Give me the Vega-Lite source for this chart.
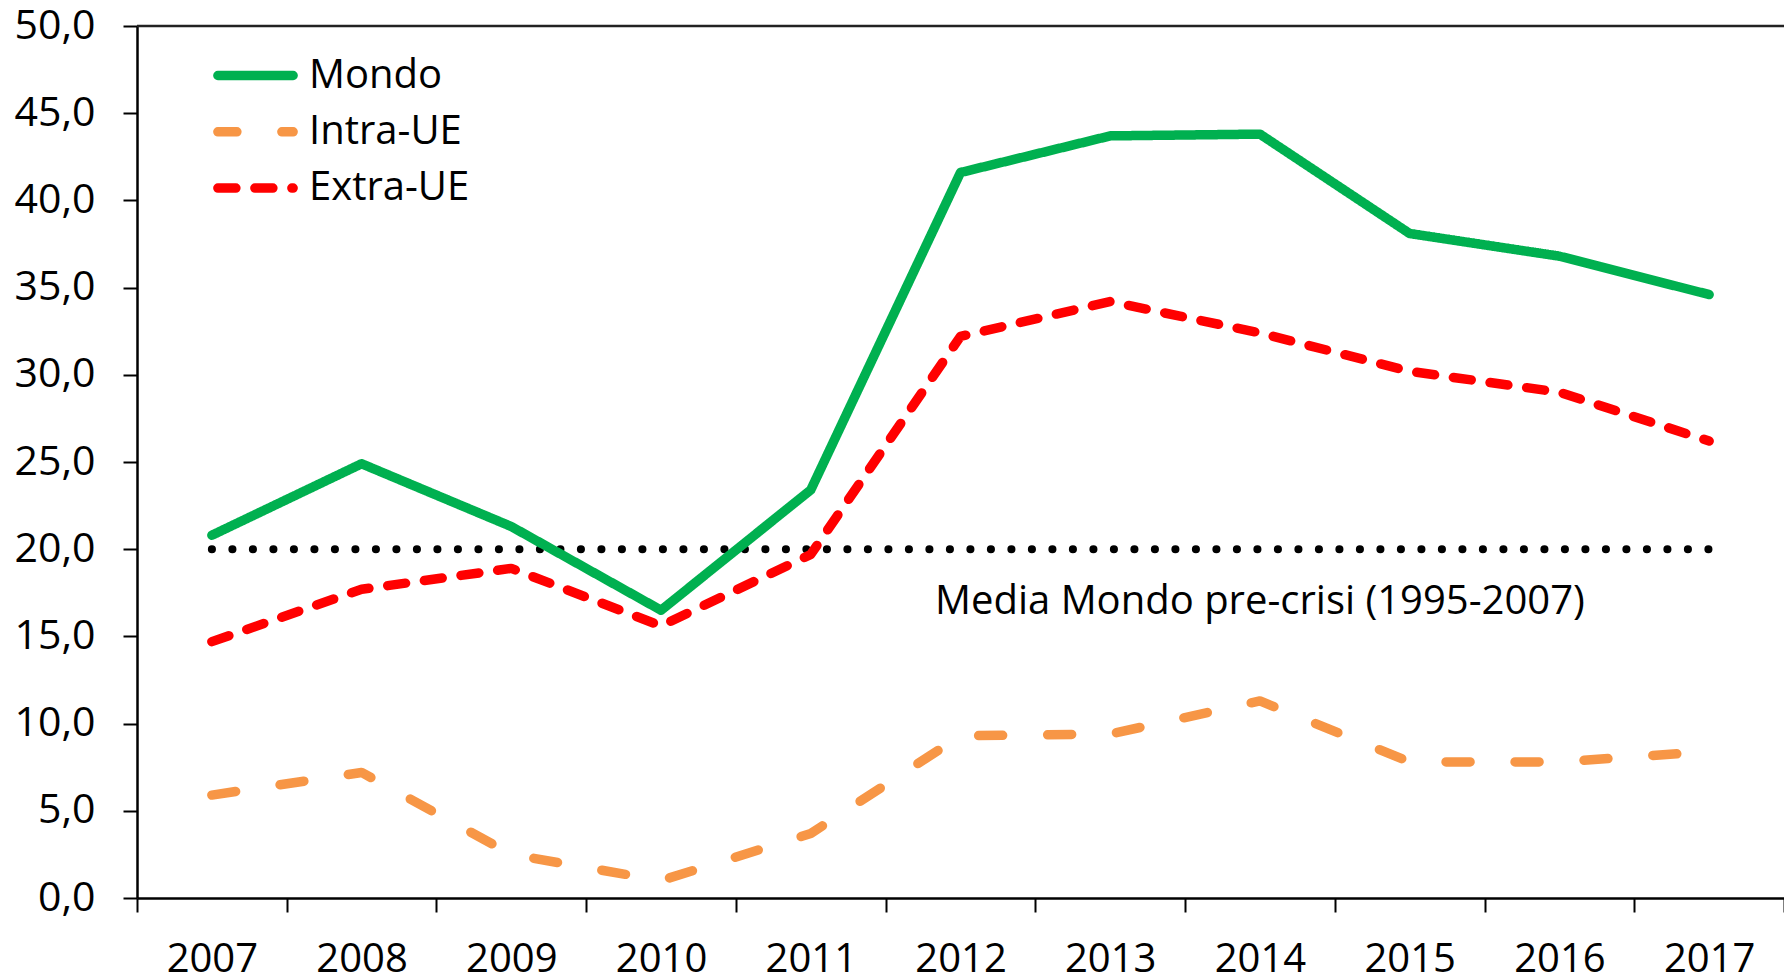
{
  "$schema": "https://vega.github.io/schema/vega-lite/v6.json",
  "width": 1647,
  "height": 872,
  "autosize": {"type": "none"},
  "padding": {"left": 137, "top": 26, "right": 0, "bottom": 80},
  "background": "white",
  "config": {
    "view": {"stroke": null},
    "font": "Open Sans",
    "axis": {"labelFont": "Open Sans", "labelColor": "#000", "domainColor": "#000", "tickColor": "#000"}
  },
  "datasets": {
    "series": [
      {"anno": "2007", "serie": "Mondo", "valore": 20.8},
      {"anno": "2008", "serie": "Mondo", "valore": 24.9},
      {"anno": "2009", "serie": "Mondo", "valore": 21.3},
      {"anno": "2010", "serie": "Mondo", "valore": 16.5},
      {"anno": "2011", "serie": "Mondo", "valore": 23.4},
      {"anno": "2012", "serie": "Mondo", "valore": 41.6},
      {"anno": "2013", "serie": "Mondo", "valore": 43.7},
      {"anno": "2014", "serie": "Mondo", "valore": 43.8},
      {"anno": "2015", "serie": "Mondo", "valore": 38.1},
      {"anno": "2016", "serie": "Mondo", "valore": 36.8},
      {"anno": "2017", "serie": "Mondo", "valore": 34.6},
      {"anno": "2007", "serie": "Intra-UE", "valore": 5.9},
      {"anno": "2008", "serie": "Intra-UE", "valore": 7.2},
      {"anno": "2009", "serie": "Intra-UE", "valore": 2.5},
      {"anno": "2010", "serie": "Intra-UE", "valore": 1.0},
      {"anno": "2011", "serie": "Intra-UE", "valore": 3.7},
      {"anno": "2012", "serie": "Intra-UE", "valore": 9.3},
      {"anno": "2013", "serie": "Intra-UE", "valore": 9.4},
      {"anno": "2014", "serie": "Intra-UE", "valore": 11.3},
      {"anno": "2015", "serie": "Intra-UE", "valore": 7.8},
      {"anno": "2016", "serie": "Intra-UE", "valore": 7.8},
      {"anno": "2017", "serie": "Intra-UE", "valore": 8.4},
      {"anno": "2007", "serie": "Extra-UE", "valore": 14.7},
      {"anno": "2008", "serie": "Extra-UE", "valore": 17.7},
      {"anno": "2009", "serie": "Extra-UE", "valore": 18.9},
      {"anno": "2010", "serie": "Extra-UE", "valore": 15.6},
      {"anno": "2011", "serie": "Extra-UE", "valore": 19.7},
      {"anno": "2012", "serie": "Extra-UE", "valore": 32.2},
      {"anno": "2013", "serie": "Extra-UE", "valore": 34.2},
      {"anno": "2014", "serie": "Extra-UE", "valore": 32.4},
      {"anno": "2015", "serie": "Extra-UE", "valore": 30.2},
      {"anno": "2016", "serie": "Extra-UE", "valore": 29.0},
      {"anno": "2017", "serie": "Extra-UE", "valore": 26.2}
    ],
    "media": [
      {"anno": "2007", "valore": 20.0},
      {"anno": "2017", "valore": 20.0}
    ],
    "etichetta": [
      {"anno": "2014", "valore": 17.0, "testo": "Media Mondo pre-crisi (1995-2007)"}
    ]
  },
  "layer": [
    {
      "data": {"values": [{"v": 50}]},
      "mark": {"type": "rule", "color": "#222", "strokeWidth": 2.5},
      "encoding": {"y": {"field": "v", "type": "quantitative", "scale": {"domain": [0, 50]}}}
    },
    {
      "data": {"name": "media"},
      "mark": {"type": "line", "color": "#000", "strokeWidth": 8, "strokeCap": "round", "strokeDash": [0.1, 20.4]},
      "encoding": {
        "x": {"field": "anno", "type": "ordinal", "bandPosition": 0.5},
        "y": {"field": "valore", "type": "quantitative"}
      }
    },
    {
      "data": {"name": "series"},
      "mark": {"type": "line", "strokeWidth": 9.5, "strokeCap": "round", "strokeJoin": "round"},
      "encoding": {
        "x": {
          "field": "anno", "type": "ordinal", "bandPosition": 0.5,
          "scale": {"type": "band", "paddingInner": 0, "paddingOuter": 0},
          "axis": {
            "title": null, "tickBand": "extent", "labelAngle": 0, "labelAlign": "center",
            "labelFontSize": 40, "labelBaseline": "alphabetic", "labelPadding": 59,
            "tickSize": 14, "tickWidth": 2, "domainWidth": 2.5
          }
        },
        "y": {
          "field": "valore", "type": "quantitative",
          "scale": {"domain": [0, 50]},
          "axis": {
            "title": null, "values": [0, 5, 10, 15, 20, 25, 30, 35, 40, 45, 50],
            "labelExpr": "replace(format(datum.value, '.1f'), '.', ',')",
            "labelFontSize": 41, "labelPadding": 28, "tickSize": 14, "tickWidth": 2,
            "domainWidth": 2.5, "grid": false
          }
        },
        "color": {
          "field": "serie", "type": "nominal",
          "scale": {"domain": ["Mondo", "Intra-UE", "Extra-UE"], "range": ["#00B050", "#F79646", "#FF0000"]},
          "legend": {
            "title": null, "orient": "none", "legendX": 85, "legendY": 16,
            "symbolType": "M-1.32,0H1.32", "symbolSize": 3249, "symbolStrokeWidth": 9.5,
            "labelFontSize": 40, "labelFont": "Open Sans", "labelColor": "#000", "labelLimit": 400,
            "labelOffset": 20, "rowPadding": 2.3,
            "encode": {"symbols": {"update": {"strokeCap": {"value": "round"}, "strokeDashOffset": {"value": 74}, "fill": {"value": "transparent"}}}}
          }
        },
        "strokeDash": {
          "field": "serie", "type": "nominal",
          "scale": {"domain": ["Mondo", "Intra-UE", "Extra-UE"], "range": [[1, 0], [24, 45], [18, 19]]},
          "legend": null
        },
        "order": {"field": "anno"}
      }
    },
    {
      "data": {"name": "etichetta"},
      "mark": {"type": "text", "fontSize": 40, "font": "Open Sans", "color": "#000", "baseline": "middle", "align": "center"},
      "encoding": {
        "x": {"field": "anno", "type": "ordinal", "bandPosition": 0.5},
        "y": {"field": "valore", "type": "quantitative"},
        "text": {"field": "testo"}
      }
    }
  ]
}
